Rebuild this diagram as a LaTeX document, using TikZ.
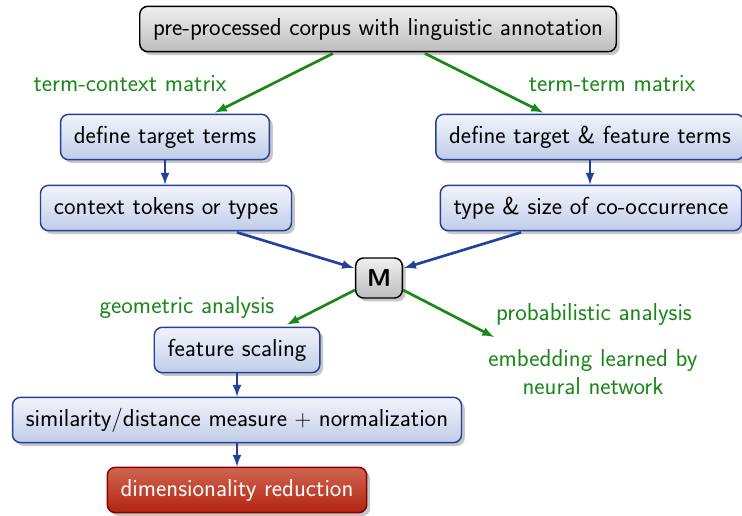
\documentclass[tikz,border=0pt]{standalone}
\usetikzlibrary{shadows,arrows,calc}
\definecolor{mygreen}{RGB}{25,135,25}
\definecolor{myblue}{RGB}{35,65,155}
\definecolor{boxtop}{RGB}{242,244,251}
\definecolor{boxbottom}{RGB}{192,205,232}
\definecolor{redtop}{RGB}{208,100,82}
\definecolor{redbottom}{RGB}{178,36,16}
\begin{document}
\begin{tikzpicture}[x=0.75pt,y=-0.75pt,
  font=\sffamily\fontsize{18.4}{21.5}\selectfont,
  box/.style={draw=myblue,line width=1.1pt,rounded corners=6pt,top color=boxtop,bottom color=boxbottom,
    minimum height=34pt,inner xsep=10pt,drop shadow={shadow xshift=2.5pt,shadow yshift=-2.5pt,opacity=0.45,fill=gray}},
  greybox/.style={box,draw=black,top color=white!94!black,bottom color=white!74!black},
  redbox/.style={box,draw=red!55!black,top color=redtop,bottom color=redbottom,text=white},
  tag/.style={text=mygreen,align=center},
  flow/.style={-latex,draw=myblue,line width=2pt},
  branch/.style={-latex,draw=mygreen,line width=2pt}]%
\useasboundingbox (0,0) rectangle (742,515);%
% source
\node[greybox] (corpus) at (378,29) {pre-processed corpus with linguistic annotation};%
\node[tag] (tcm) at (130,84) {term-context matrix};%
\node[tag] (ttm) at (612,84) {term-term matrix};%
% left branch
\node[box] (target) at (165,137) {define target terms};%
\node[box] (ctx) at (166,208) {context tokens or types};%
% right branch
\node[box] (feat) at (590,137) {define target \& feature terms};%
\node[box] (cooc) at (591,208) {type \& size of co-occurrence};%
% matrix
\node[greybox,font=\sffamily\bfseries\fontsize{18.4}{21.5}\selectfont,minimum width=35pt,inner xsep=4pt,minimum height=30pt] (M) at (379,278) {M};%
\node[tag] (geo) at (187,307) {geometric analysis};%
\node[tag] (prob) at (594,314) {probabilistic analysis};%
\node[tag] (emb) at (593,372) {embedding learned by\\neural network};%
\coordinate (nn) at (494,337);%
% geometric pipeline
\node[box] (scaling) at (237,350) {feature scaling};%
\node[box] (sim) at (237,420) {similarity/distance measure $+$ normalization};%
\node[redbox] (dim) at (237,490) {dimensionality reduction};%
% connectors
\draw[branch] ($(corpus.south)+(-45,1)$) -- ($(target.north)+(50,-1)$);%
\draw[branch] ($(corpus.south)+(47,1)$) -- ($(feat.north)+(-47,-1)$);%
\draw[flow] (target.south) -- (target.south |- ctx.north);%
\draw[flow] (feat.south) -- (feat.south |- cooc.north);%
\draw[flow] ($(ctx.south)+(71,1)$) -- ($(M.west)+(-1,-10)$);%
\draw[flow] ($(cooc.south)+(-70,1)$) -- ($(M.east)+(1,-10)$);%
\draw[branch] ($(M.west)+(0,12)$) -- ($(scaling.north)+(50,-2)$);%
\draw[branch] ($(M.east)+(0,12)$) -- (nn);%
\draw[flow] (scaling.south) -- (sim.north);%
\draw[flow] (sim.south) -- (dim.north);%
\end{tikzpicture}
\end{document}
